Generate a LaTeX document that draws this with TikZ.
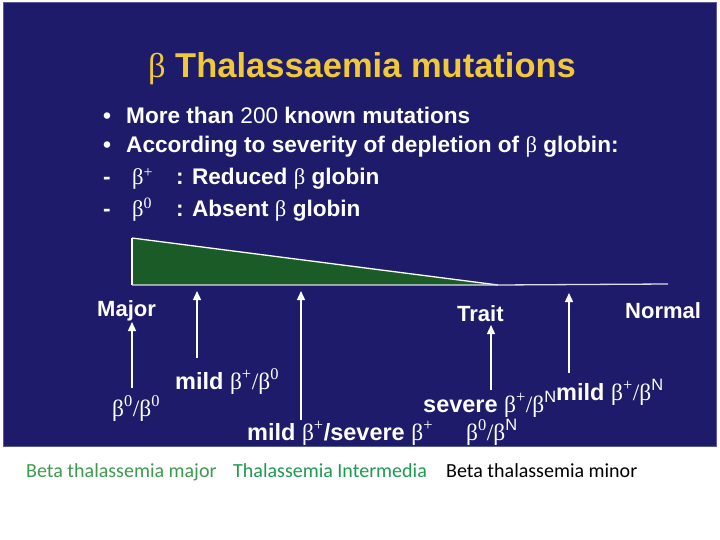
\documentclass[tikz,border=0pt]{standalone}
\usepackage{fontspec}
\setmainfont{Liberation Sans}
\newfontfamily\betafont{Liberation Serif}
\newfontfamily\calfont{Carlito}
\usetikzlibrary{arrows.meta}
\definecolor{slidebg}{HTML}{1E1C6A}
\definecolor{slideedge}{HTML}{5A5C9A}
\definecolor{titleyellow}{HTML}{F0C838}
\definecolor{trifill}{HTML}{1B5B28}
\definecolor{greenA}{HTML}{3E9A4C}
\definecolor{greenB}{HTML}{1E9A50}
\newcommand\gb[1]{{\betafont\mdseries β\textsuperscript{#1}}}
\newcommand\gbN{{\betafont\mdseries β\textsuperscript{\fontspec{Liberation Sans}N}}}
\newcommand\thinslash{{\betafont\mdseries /}}
\tikzset{
  slidetxt/.style={text=white, font=\fontsize{22}{26}\selectfont\bfseries, inner sep=0pt, anchor=base west},
  bullettxt/.style={text=white, font=\fontsize{22.6}{26}\selectfont\bfseries, inner sep=0pt, anchor=base west},
  labtxt/.style={text=white, font=\fontsize{23.5}{27}\selectfont, inner sep=0pt, anchor=base west},
  bottxt/.style={font=\calfont\fontsize{20}{23}\selectfont, inner sep=0pt, anchor=base west},
  uparrow/.style={draw=white, line width=1.4pt, -{Triangle[length=9pt,width=8pt]}},
}
\begin{document}
\begin{tikzpicture}[x=1pt,y=-1pt]
\useasboundingbox (0,0) rectangle (720,540);
\fill[white] (0,0) rectangle (720,540);
% slide background
\filldraw[fill=slidebg, draw=slideedge, line width=1pt] (3,3) rectangle (716,446);
% title
\node[anchor=base, inner sep=0pt, text=titleyellow, font=\fontsize{34.5}{38}\selectfont\bfseries] (title) at (362,78) {{\betafont\mdseries β} Thalassaemia mutations};
% bullets
\node[bullettxt] (b1) at (103,124) {•};
\node[bullettxt] (t1) at (126,124) {More than \mdseries 200 \bfseries known mutations};
\node[bullettxt] (b2) at (103,153) {•};
\node[bullettxt] (t2) at (126,153) {According to severity of depletion of {\betafont\mdseries β} globin:};
\node[bullettxt] (d3) at (103,185) {-};
\node[bullettxt] (g3) at (132,185) {\gb{+}};
\node[bullettxt] (t3) at (176,185) {: Reduced {\betafont\mdseries β} globin};
\node[bullettxt] (d4) at (103,216) {-};
\node[bullettxt] (g4) at (132,216) {\gb{0}};
\node[bullettxt] (t4) at (176,216) {: Absent {\betafont\mdseries β} globin};
% severity wedge
\coordinate (tl) at (132,238);
\coordinate (bl) at (132,285);
\coordinate (apex) at (498,285);
\coordinate (rend) at (668,284);
\fill[trifill] (tl) -- (bl) -- (apex) -- cycle;
\draw[white, line width=1.3pt] (tl) -- (apex);
\draw[white, line width=1.3pt] (tl) -- (bl);
\draw[white!85!slidebg, line width=1.3pt] (bl) -- (apex) -- (rend);
% category labels
\node[slidetxt] (major) at (97,316) {Major};
\node[slidetxt] (trait) at (457,321) {Trait};
\node[slidetxt] (normal) at (625,318) {Normal};
% genotype labels
\node[labtxt] (l1) at (112,416) {\gb{0}\thinslash\gb{0}};
\node[labtxt] (l2) at (175,389) {\bfseries mild \gb{+}\thinslash\gb{0}};
\node[labtxt] (l3) at (247,440) {\bfseries mild \gb{+}/severe \gb{+}};
\node[labtxt] (l4) at (423,412) {\bfseries severe \gb{+}\thinslash\gbN};
\node[labtxt] (l5) at (556,400) {\bfseries mild \gb{+}\thinslash\gbN};
\node[labtxt] (l6) at (466,440) {\gb{0}\thinslash\gbN};
% arrows
\coordinate (a1s) at (132,388); \coordinate (a1e) at (132,322);
\coordinate (a2s) at (197,358); \coordinate (a2e) at (197,291);
\coordinate (a3s) at (301,420); \coordinate (a3e) at (301,291);
\coordinate (a4s) at (491,390); \coordinate (a4e) at (491,325);
\coordinate (a5s) at (569,373); \coordinate (a5e) at (569,293);
\draw[uparrow] (a1s) -- (a1e);
\draw[uparrow] (a2s) -- (a2e);
\draw[uparrow] (a3s) -- (a3e);
\draw[uparrow] (a4s) -- (a4e);
\draw[uparrow] (a5s) -- (a5e);
% captions below slide
\node[bottxt, text=greenA] (c1) at (26,477) {Beta thalassemia major};
\node[bottxt, text=greenB] (c2) at (233,477) {Thalassemia Intermedia};
\node[bottxt, text=black] (c3) at (446,477) {Beta thalassemia minor};
\end{tikzpicture}
\end{document}
